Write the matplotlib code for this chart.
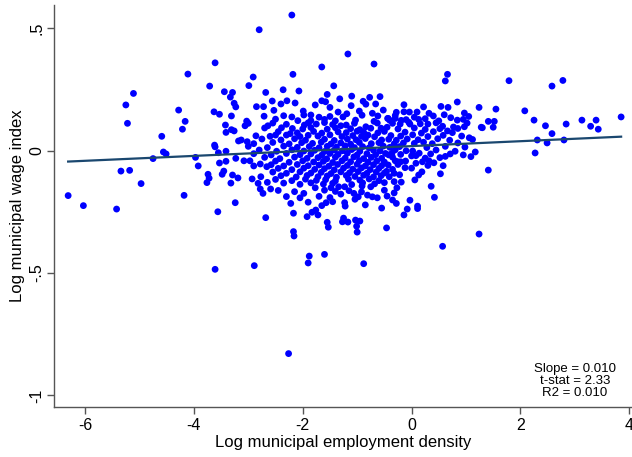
import numpy as np
import matplotlib
matplotlib.use("Agg")
import matplotlib.pyplot as plt

plt.rcParams['font.family'] = ['Liberation Sans', 'DejaVu Sans']
plt.rcParams['axes.unicode_minus'] = False

# Data: (log employment density, log wage index)
outer_pts = [
(-4.11,0.312),(-5.11,0.233),(-5.25,0.186),(-4.28,0.165),(-4.16,0.119),(-5.22,0.111),(-4.21,0.087),(-4.59,0.058),(-4.56,-0.006),(-4.51,-0.014),
(-4.75,-0.033),(-3.97,-0.028),(-3.92,-0.063),(-5.34,-0.084),(-5.18,-0.081),(-4.97,-0.135),(-6.31,-0.184),(-6.03,-0.225),(-5.42,-0.239),(-4.18,-0.183),
(-2.20,0.553),(-2.80,0.493),(-3.61,0.358),(-2.91,0.300),(-2.18,0.311),(-3.71,0.263),(-2.99,0.265),(-2.36,0.248),(-3.44,0.240),(-3.29,0.237),(-2.68,0.237),(-3.33,0.218),(-2.07,0.243),(-3.26,0.193),(-3.23,0.178),(-2.56,0.202),(-2.29,0.203),(-2.40,0.190),(-2.14,0.194),(-2.85,0.179),(-2.72,0.179),(-3.63,0.158),(-3.53,0.148),(-3.31,0.141),(-2.71,0.140),(-2.53,0.164),(-3.42,0.104),(-3.03,0.120),(-3.00,0.111),(-3.06,0.101),(-2.64,0.101),(-3.31,0.085),(-3.26,0.080),(-3.41,0.074),(-2.86,0.060),(-3.18,0.039),(-3.13,0.043),(-3.02,0.036),(-2.50,0.063),(-2.39,0.093),(-2.23,0.069),(-2.19,0.090),(-2.09,0.122),(-3.62,0.022),
(-3.61,0.015),(-3.55,-0.009),(-3.41,-0.003),(-3.53,-0.051),(-3.41,-0.044),(-3.23,-0.032),(-3.08,-0.042),(-2.97,-0.042),(-2.90,-0.063),(-2.78,-0.055),(-2.66,-0.066),(-3.74,-0.097),(-3.72,-0.113),(-3.76,-0.131),(-3.48,-0.097),(-3.45,-0.084),(-3.29,-0.100),(-3.19,-0.112),(-3.32,-0.133),(-2.93,-0.116),(-2.77,-0.107),(-2.82,-0.134),(-2.78,-0.157),(-2.73,-0.175),(-2.65,-0.130),(-2.59,-0.157),(-3.24,-0.213),(-3.56,-0.250),(-2.68,-0.274),(-2.22,-0.216),(-2.17,-0.256),(-2.17,-0.331),(-2.16,-0.349),(-3.61,-0.485),(-2.89,-0.470),(-2.26,-0.829),
(-1.17,0.394),(-1.65,0.341),(-0.69,0.353),(-1.43,0.264),(-1.55,0.229),(-1.32,0.211),(-1.10,0.222),(-0.77,0.217),(-0.58,0.220),(-1.65,0.203),(-1.58,0.199),(-1.77,0.186),(-1.50,0.176),(-1.11,0.183),(-0.89,0.201),(-0.84,0.189),(-0.66,0.190),(-1.99,0.161),(-1.98,0.145),(-1.35,0.157),(-1.19,0.150),(-0.96,0.161),(-0.52,0.165),(-1.26,0.137),(-0.91,0.144),(-0.72,0.152),(-0.62,0.141),(-0.44,0.131),(-1.70,0.136),(-1.97,0.104),(-1.03,0.124),(-1.05,0.111),(-0.69,0.119),(-0.63,0.112),(-0.56,0.091),(-0.84,0.097),(-1.20,0.104),(-1.30,0.101),
(-1.98,-0.175),(-1.90,-0.211),(-1.77,-0.152),(-1.48,-0.152),(-1.34,-0.148),(-1.23,-0.148),(-1.30,-0.178),(-1.06,-0.175),(-1.04,-0.199),(-0.91,-0.145),(-0.75,-0.148),(-0.81,-0.182),(-0.72,-0.189),(-0.63,-0.193),(-1.45,-0.209),(-1.57,-0.213),(-1.65,-0.225),(-1.23,-0.213),(-1.22,-0.227),(-0.85,-0.222),(-0.55,-0.235),(-1.76,-0.243),(-1.83,-0.252),(-1.72,-0.263),(-1.92,-0.270),(-1.25,-0.276),(-1.27,-0.291),(-1.17,-0.292),(-1.03,-0.284),(-0.95,-0.288),(-1.55,-0.293),(-1.53,-0.313),(-1.01,-0.309),(-1.00,-0.333),(-0.46,-0.316),(-1.88,-0.431),(-1.90,-0.459),(-1.60,-0.424),(-0.88,-0.462),
(0.66,0.311),(0.62,0.284),(-0.14,0.187),(0.22,0.178),(0.54,0.180),(0.67,0.176),(0.84,0.198),(1.24,0.176),(-0.28,0.156),(-0.14,0.158),(-0.04,0.157),(0.10,0.157),(0.32,0.152),(0.97,0.153),(-0.43,0.131),(-0.40,0.123),(-0.30,0.131),(-0.19,0.123),(-0.21,0.108),(0.13,0.127),(0.16,0.109),(-0.03,0.108),(0.84,0.124),(1.02,0.112),(0.97,0.097),(0.77,0.096),(0.57,0.099),(0.66,0.080),(0.52,0.089),(1.06,0.052),(1.28,0.095),
(1.17,-0.006),(1.09,-0.025),(0.71,-0.014),(0.62,-0.024),(0.58,-0.062),(0.53,-0.095),(0.36,-0.146),(0.42,-0.191),(0.32,-0.042),(0.41,-0.050),(0.19,-0.087),(0.13,-0.100),(0.06,-0.120),(0.08,-0.052),(0.14,-0.011),(0.08,-0.021),(0.00,-0.022),(0.02,-0.002),(-0.11,-0.043),(-0.20,-0.046),(-0.25,-0.046),(-0.12,-0.070),(-0.22,-0.099),(-0.32,-0.093),(-0.41,-0.107),(-0.32,-0.127),(-0.19,-0.129),(-0.27,-0.152),(-0.32,-0.173),(-0.35,-0.202),(-0.28,-0.216),(-0.03,-0.203),(-0.08,-0.239),(0.11,-0.227),(0.11,-0.237),(-0.14,-0.263),(1.24,-0.341),(0.57,-0.391),(-0.43,-0.059),(-0.42,-0.018),(-0.36,-0.011),(-0.46,-0.085),
(1.79,0.285),(2.58,0.263),(2.78,0.286),(1.55,0.169),(2.08,0.162),(1.41,0.119),(1.52,0.119),(1.30,0.093),(1.50,0.095),(2.25,0.124),(2.46,0.101),(2.58,0.069),(2.84,0.108),(3.13,0.124),(3.39,0.124),(3.29,0.099),(3.43,0.087),(3.85,0.137),(2.31,0.043),(2.49,0.031),(2.80,0.043),(2.27,-0.010),(1.41,-0.080),
]

core_pts = [
(-2.35,0.142),(-2.20,0.137),(-1.85,0.145),(-1.50,0.139),(-0.30,0.143),(0.05,0.136),(0.40,0.141),(0.60,0.146),(0.72,0.134),(1.05,0.139),
(-2.50,0.128),(-1.85,0.122),(-1.60,0.127),(-1.40,0.121),(-0.10,0.126),(0.25,0.130),(0.50,0.121),(0.95,0.127),
(-2.55,0.112),(-2.30,0.107),(-1.90,0.113),(-1.75,0.108),(-1.60,0.114),(-1.45,0.106),(-0.35,0.111),(-0.05,0.115),(0.30,0.108),(0.45,0.113),
(-2.70,0.092),(-2.00,0.088),(-1.85,0.094),(-1.55,0.087),(-1.40,0.093),(-1.12,0.089),(-0.95,0.085),(-0.75,0.091),(-0.45,0.095),(-0.25,0.088),(0.05,0.092),(0.25,0.086),(0.85,0.090),
(-2.45,0.077),(-2.10,0.072),(-1.80,0.078),(-1.65,0.071),(-1.35,0.076),(-1.20,0.073),(-1.00,0.079),(-0.88,0.074),(-0.62,0.072),(-0.50,0.078),(-0.12,0.075),(0.18,0.071),(0.40,0.077),(0.75,0.073),
(-2.60,0.058),(-2.30,0.063),(-2.05,0.057),(-1.90,0.062),(-1.72,0.059),(-1.50,0.064),(-1.28,0.057),(-1.08,0.061),(-0.92,0.058),(-0.80,0.063),(-0.68,0.056),(-0.38,0.061),(-0.20,0.059),(0.02,0.064),(0.30,0.057),(0.58,0.062),(0.92,0.059),
(-2.75,0.047),(-2.40,0.043),(-2.15,0.048),(-1.95,0.042),(-1.60,0.046),(-1.42,0.041),(-1.18,0.047),(-1.02,0.044),(-0.85,0.049),(-0.55,0.043),(-0.42,0.046),(-0.28,0.042),(-0.08,0.047),(0.12,0.044),(0.48,0.048),(0.70,0.042),(1.12,0.045),
(-2.90,0.028),(-2.55,0.033),(-2.25,0.027),(-2.02,0.032),(-1.82,0.029),(-1.66,0.034),(-1.48,0.027),(-1.30,0.031),(-1.12,0.026),(-0.96,0.033),(-0.74,0.028),(-0.60,0.032),(-0.32,0.027),(-0.15,0.031),(0.05,0.029),(0.22,0.034),(0.38,0.028),(0.85,0.031),
(-3.00,0.017),(-2.65,0.012),(-2.35,0.018),(-2.10,0.013),(-1.88,0.016),(-1.70,0.011),(-1.55,0.017),(-1.38,0.014),(-1.22,0.019),(-1.05,0.012),(-0.90,0.016),(-0.78,0.011),(-0.52,0.018),(-0.40,0.013),(-0.22,0.016),(0.28,0.012),(0.62,0.017),(0.98,0.014),
(-2.80,0.002),(-2.48,-0.003),(-2.20,0.003),(-1.98,-0.002),(-1.78,0.001),(-1.60,-0.004),(-1.42,0.002),(-1.27,-0.001),(-1.10,0.004),(-0.95,-0.003),(-0.70,0.001),(-0.58,-0.002),(-0.30,0.003),(-0.10,-0.001),(0.45,0.002),(0.80,-0.003),
(-2.90,-0.013),(-2.58,-0.018),(-2.30,-0.012),(-2.05,-0.017),(-1.85,-0.014),(-1.65,-0.019),(-1.50,-0.012),(-1.35,-0.016),(-1.18,-0.011),(-1.00,-0.018),(-0.82,-0.013),(-0.66,-0.017),(-0.48,-0.012),(-0.20,-0.016),(0.35,-0.014),(0.95,-0.018),
(-2.70,-0.028),(-2.42,-0.033),(-2.15,-0.027),(-1.92,-0.032),(-1.72,-0.029),(-1.56,-0.034),(-1.40,-0.027),(-1.22,-0.031),(-1.06,-0.026),(-0.88,-0.033),(-0.74,-0.028),(-0.55,-0.032),(-0.35,-0.027),(0.25,-0.031),(0.52,-0.029),
(-2.50,-0.043),(-2.25,-0.048),(-2.00,-0.042),(-1.80,-0.047),(-1.62,-0.044),(-1.45,-0.049),(-1.28,-0.042),(-1.12,-0.046),(-0.96,-0.041),(-0.80,-0.048),(-0.64,-0.043),(-0.50,-0.047),(-0.30,-0.042),(0.20,-0.046),
(-2.58,-0.058),(-2.35,-0.063),(-2.10,-0.057),(-1.90,-0.062),(-1.70,-0.059),(-1.52,-0.064),(-1.36,-0.057),(-1.18,-0.061),(-1.00,-0.056),(-0.85,-0.063),(-0.70,-0.058),(-0.55,-0.062),(-0.25,-0.057),(0.30,-0.061),
(-2.45,-0.073),(-2.20,-0.078),(-1.98,-0.072),(-1.78,-0.077),(-1.60,-0.074),(-1.42,-0.079),(-1.25,-0.072),(-1.08,-0.076),(-0.92,-0.071),(-0.76,-0.078),(-0.60,-0.073),(-0.35,-0.077),(0.00,-0.072),
(-2.55,-0.088),(-2.30,-0.093),(-2.05,-0.087),(-1.85,-0.092),(-1.66,-0.089),(-1.48,-0.094),(-1.30,-0.087),(-1.14,-0.091),(-0.98,-0.086),(-0.82,-0.093),(-0.65,-0.088),(-0.50,-0.092),
(-2.40,-0.103),(-2.12,-0.108),(-1.92,-0.102),(-1.72,-0.107),(-1.55,-0.104),(-1.38,-0.109),(-1.20,-0.102),(-1.04,-0.106),(-0.88,-0.101),(-0.70,-0.108),(-0.56,-0.103),
(-2.50,-0.118),(-2.20,-0.123),(-1.95,-0.117),(-1.75,-0.122),(-1.58,-0.119),(-1.40,-0.124),(-1.16,-0.117),(-0.95,-0.121),(-0.78,-0.116),(-0.60,-0.123),
(-2.35,-0.133),(-2.05,-0.138),(-1.85,-0.132),(-1.62,-0.137),(-1.45,-0.134),(-1.10,-0.139),(-0.90,-0.132),(-0.68,-0.136),(-0.50,-0.131),
(-2.45,-0.163),(-2.15,-0.168),(-1.60,-0.162),(-1.40,-0.167),(-1.15,-0.164),(-0.92,-0.169),(-0.50,-0.162),
(-2.30,-0.188),(-2.05,-0.193),(-1.70,-0.187),(-1.50,-0.192),(-0.98,-0.189),(-0.45,-0.186),
]

pts = outer_pts + core_pts
density = np.array([p[0] for p in pts])
wage = np.array([p[1] for p in pts])

# fitted line as reported
slope = 0.010
intercept = 0.018
line_x = np.array([-6.31, 3.85])

x_ticks = [-6, -4, -2, 0, 2, 4]
y_ticks = [-1, -0.5, 0, 0.5]
y_ticklabels = ['-1', '-.5', '0', '.5']
stats_text = "Slope = 0.010\nt-stat = 2.33\nR2 = 0.010"

fig = plt.figure(figsize=(6.32, 4.57), dpi=100)
ax = fig.add_axes([54/632, 50/457, 1 - 54/632, 1 - 50/457 - 5/457])

ax.scatter(density, wage, s=24, c='#0000ff', edgecolors='none', zorder=2)
ax.plot(line_x, intercept + slope * line_x, color='#1a476f', lw=1.6, zorder=3)

ax.set_xlim(-6.57, 4.05)
ax.set_ylim(-1.047, 0.594)
ax.set_xticks(x_ticks)
ax.set_yticks(y_ticks)
ax.set_yticklabels(y_ticklabels, rotation=90, va='center')
for s in ['top', 'right']:
    ax.spines[s].set_visible(False)
for s in ['left', 'bottom']:
    ax.spines[s].set_color('#555555')
    ax.spines[s].set_linewidth(1.0)
ax.tick_params(direction='out', length=5, width=1.0, color='#555555', labelsize=11.5, pad=3)
ax.tick_params(axis='y', pad=2)
ax.set_xlabel('Log municipal employment density', fontsize=12, labelpad=1)
ax.set_ylabel('Log municipal wage index', fontsize=12, labelpad=3)

fig.text(575/632, 1 - 381/457, stats_text, fontsize=9.5, ha='center', va='center', linespacing=0.95)

fig.savefig('out.png', dpi=100)
